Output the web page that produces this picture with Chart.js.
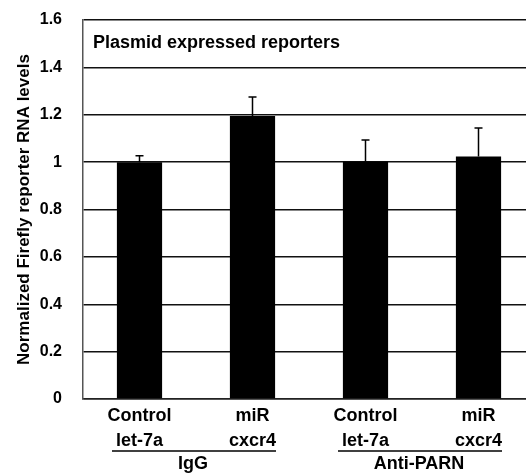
<!DOCTYPE html>
<html>
<head>
<meta charset="utf-8">
<script src="https://cdn.jsdelivr.net/npm/chart.js@4/dist/chart.umd.min.js"></script>
<style>
  html, body { margin: 0; padding: 0; background: #fff; overflow: hidden; }
  #wrap { width: 540px; height: 475px; }
</style>
</head>
<body>
<div id="wrap"><canvas id="chart" width="540" height="475"></canvas></div>
<script>
// data
const topLabels = ['Control', 'miR', 'Control', 'miR'];
const bottomLabels = ['let-7a', 'cxcr4', 'let-7a', 'cxcr4'];
const levels = [1.00, 1.195, 1.003, 1.024];
const errors = [0.027, 0.08, 0.09, 0.12];
const groupNames = ['IgG', 'Anti-PARN'];
const groupSpans = [[0, 1], [2, 3]];
const panelTitle = 'Plasmid expressed reporters';
const yTitle = 'Normalized Firefly reporter RNA levels';

const fontFamily = '"Liberation Sans", Arial, sans-serif';

// error bars, only the upper half shows above the black bars
const errorBars = {
  id: 'errorBars',
  afterDatasetsDraw(chart) {
    const ctx = chart.ctx;
    const y = chart.scales.y;
    const meta = chart.getDatasetMeta(0);
    ctx.save();
    ctx.strokeStyle = '#000';
    ctx.lineWidth = 1.5;
    meta.data.forEach((bar, i) => {
      const yTop = y.getPixelForValue(levels[i]);
      const yErr = y.getPixelForValue(levels[i] + errors[i]);
      ctx.beginPath();
      ctx.moveTo(bar.x, yTop);
      ctx.lineTo(bar.x, yErr);
      ctx.moveTo(bar.x - 4, yErr);
      ctx.lineTo(bar.x + 4, yErr);
      ctx.stroke();
    });
    ctx.restore();
  }
};

// panel title inside the plot + group underlines and names below the axis
const extras = {
  id: 'extras',
  afterDraw(chart) {
    const ctx = chart.ctx;
    const area = chart.chartArea;
    const x = chart.scales.x;
    ctx.save();
    ctx.fillStyle = '#000';
    ctx.font = 'bold 18px ' + fontFamily;
    ctx.textAlign = 'left';
    ctx.textBaseline = 'middle';
    ctx.fillText(panelTitle, area.left + 10, area.top + 23);

    groupSpans.forEach((span, g) => {
      ctx.font = 'bold 18px ' + fontFamily;
      const x0 = x.getPixelForValue(span[0]);
      const x1 = x.getPixelForValue(span[1]);
      const w0 = ctx.measureText(bottomLabels[span[0]]).width;
      const w1 = ctx.measureText(bottomLabels[span[1]]).width;
      const left = x0 - w0 / 2 - 4;
      const right = x1 + w1 / 2;
      ctx.strokeStyle = '#000';
      ctx.lineWidth = 1.5;
      ctx.beginPath();
      ctx.moveTo(left, 451);
      ctx.lineTo(right, 451);
      ctx.stroke();
      ctx.textAlign = 'center';
      ctx.fillText(groupNames[g], (x0 + x1) / 2 - 3, 464);
    });
    ctx.restore();
  }
};

new Chart(document.getElementById('chart'), {
  type: 'bar',
  data: {
    labels: topLabels.map((t, i) => [t, bottomLabels[i]]),
    datasets: [{
      data: levels,
      backgroundColor: '#000',
      borderWidth: 0,
      categoryPercentage: 1,
      barPercentage: 0.4
    }]
  },
  options: {
    responsive: false,
    animation: false,
    devicePixelRatio: 1,
    layout: { padding: { top: 20, right: 5, left: 0, bottom: 0 } },
    plugins: {
      legend: { display: false },
      tooltip: { enabled: false },
      title: { display: false }
    },
    scales: {
      x: {
        grid: { display: false, drawTicks: false },
        border: { display: true, color: '#222', width: 1.5 },
        ticks: {
          color: '#000',
          padding: 4,
          maxRotation: 0,
          autoSkip: false,
          font: { family: fontFamily, size: 18, weight: 'bold', lineHeight: 1.4 }
        },
        afterFit(scale) {
          scale.height = 76;
          scale.paddingLeft = 0;
          scale.paddingRight = 0;
        }
      },
      y: {
        min: 0,
        max: 1.6,
        ticks: {
          stepSize: 0.2,
          color: '#000',
          padding: 21,
          font: { family: fontFamily, size: 16, weight: 'bold' },
          callback: v => String(+v.toFixed(1))
        },
        grid: { color: '#111', lineWidth: 1.5, drawTicks: false },
        border: { display: true, color: '#555', width: 1.5 },
        title: {
          display: true,
          text: yTitle,
          color: '#000',
          font: { family: fontFamily, size: 17, weight: 'bold' },
          padding: { top: 14, bottom: 0 }
        },
        afterFit(scale) {
          scale.width = 83;
          scale.paddingTop = 0;
          scale.paddingBottom = 0;
        }
      }
    }
  },
  plugins: [errorBars, extras]
});
</script>
</body>
</html>
